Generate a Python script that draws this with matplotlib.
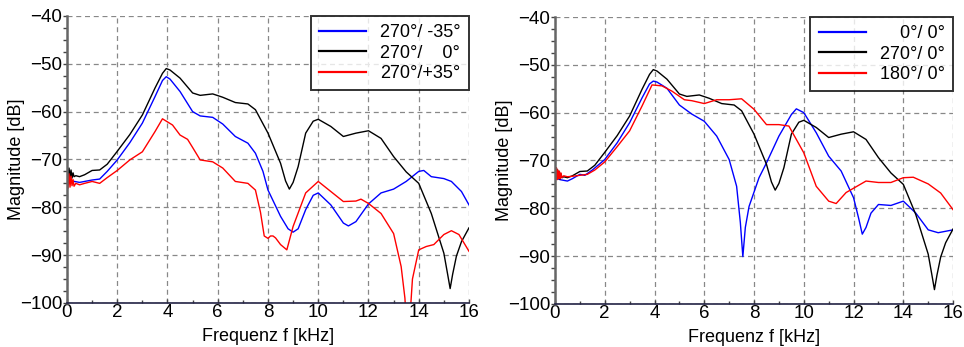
import matplotlib
matplotlib.use('Agg')
import matplotlib.pyplot as plt
from matplotlib.ticker import MultipleLocator

plt.rcParams['font.family'] = ['Liberation Sans', 'DejaVu Sans']

# 270 deg / 0 deg (shown in both panels)
f_black = [0.0, 0.04, 0.08, 0.12, 0.16, 0.2, 0.24, 0.28, 0.35, 0.5, 0.7, 0.9, 1.0, 1.3, 1.6, 2.0, 2.5, 3.0, 3.5, 3.8, 3.95, 4.1, 4.5, 5.0, 5.3, 5.8, 6.2, 6.7, 7.2, 7.5, 8.0, 8.5, 8.7, 8.85, 9.0, 9.2, 9.5, 9.8, 10.0, 10.5, 11.0, 11.5, 12.0, 12.5, 13.0, 13.5, 14.0, 14.5, 15.0, 15.15, 15.25, 15.35, 15.5, 15.7, 16.0]
db_black = [-71.0, -73.5, -71.8, -73.8, -72.2, -73.9, -72.8, -73.6, -73.4, -73.6, -73.2, -72.6, -72.3, -72.2, -71.0, -68.3, -64.8, -60.7, -55.1, -52.0, -51.0, -51.3, -53.0, -56.1, -56.6, -56.3, -57.0, -58.1, -58.4, -59.6, -64.5, -70.8, -74.5, -76.2, -74.8, -71.5, -64.5, -62.0, -61.6, -63.1, -65.2, -64.5, -64.0, -65.6, -69.4, -72.6, -75.0, -81.3, -89.6, -94.0, -97.0, -94.0, -90.2, -87.2, -84.3]

# 270 deg / -35 deg
f_blue = [0.0, 0.1, 0.2, 0.3, 0.5, 0.7, 1.0, 1.3, 1.6, 2.0, 2.5, 3.0, 3.5, 3.8, 3.95, 4.1, 4.5, 5.0, 5.3, 5.8, 6.2, 6.7, 7.2, 7.5, 7.8, 8.0, 8.5, 8.8, 9.0, 9.2, 9.5, 9.8, 10.0, 10.5, 11.0, 11.2, 11.5, 12.0, 12.5, 13.0, 13.5, 14.0, 14.2, 14.5, 15.0, 15.3, 15.7, 16.0]
db_blue = [-73.0, -74.0, -74.5, -74.6, -74.8, -74.6, -74.3, -74.1, -72.5, -70.1, -66.5, -62.4, -56.9, -53.5, -52.7, -53.2, -55.8, -60.0, -60.9, -61.2, -62.6, -65.2, -66.6, -68.7, -72.5, -76.4, -81.9, -84.5, -85.2, -84.5, -80.5, -77.5, -77.0, -79.5, -83.3, -83.9, -83.0, -79.3, -77.0, -76.2, -74.6, -72.5, -72.3, -73.6, -74.0, -74.6, -76.7, -79.5]

# 270 deg / +35 deg
f_red = [0.0, 0.04, 0.08, 0.12, 0.16, 0.2, 0.24, 0.28, 0.35, 0.5, 0.7, 1.0, 1.3, 1.6, 2.0, 2.5, 3.0, 3.5, 3.8, 4.2, 4.5, 4.8, 5.0, 5.3, 5.8, 6.2, 6.7, 7.2, 7.5, 7.7, 7.85, 8.0, 8.1, 8.2, 8.3, 8.5, 8.75, 9.0, 9.5, 10.0, 10.5, 11.0, 11.5, 11.7, 12.0, 12.5, 13.0, 13.3, 13.45, 13.55, 13.65, 13.75, 14.0, 14.3, 14.6, 15.0, 15.3, 15.6, 16.0]
db_red = [-72.0, -76.0, -73.0, -75.8, -73.5, -75.5, -74.2, -75.6, -75.0, -75.3, -75.0, -74.6, -75.0, -73.8, -72.3, -70.1, -68.4, -64.2, -61.5, -62.8, -64.9, -65.8, -67.5, -70.1, -70.5, -71.8, -74.6, -75.0, -76.4, -81.0, -86.0, -86.5, -86.0, -86.0, -86.4, -87.8, -88.9, -84.0, -77.0, -74.6, -76.7, -78.8, -78.7, -78.3, -79.2, -81.3, -85.5, -92.4, -99.0, -108.0, -103.0, -95.0, -88.9, -88.2, -87.8, -85.7, -84.9, -85.7, -89.2]

# 0 deg / 0 deg
f_blue2 = [0.0, 0.1, 0.2, 0.3, 0.5, 0.7, 1.0, 1.2, 1.5, 2.0, 2.5, 3.0, 3.5, 3.8, 3.95, 4.1, 4.5, 5.0, 5.5, 6.0, 6.5, 7.0, 7.3, 7.45, 7.55, 7.65, 7.8, 8.2, 8.5, 9.0, 9.5, 9.7, 10.0, 10.5, 11.0, 11.5, 12.0, 12.2, 12.35, 12.5, 12.7, 13.0, 13.5, 14.0, 14.5, 15.0, 15.4, 16.0]
db_blue2 = [-73.5, -73.8, -74.0, -74.1, -74.3, -73.8, -72.9, -73.1, -72.0, -69.8, -66.3, -62.1, -56.9, -54.0, -53.4, -53.6, -54.9, -58.4, -60.3, -61.8, -64.9, -69.8, -75.4, -83.0, -90.1, -84.0, -79.6, -73.6, -70.5, -64.9, -60.4, -59.2, -60.0, -64.2, -69.1, -72.2, -77.8, -82.0, -85.4, -84.0, -81.0, -79.2, -79.4, -78.5, -81.0, -84.5, -85.1, -84.5]

# 180 deg / 0 deg
f_red2 = [0.0, 0.03, 0.06, 0.09, 0.12, 0.15, 0.18, 0.21, 0.24, 0.28, 0.35, 0.5, 0.7, 1.0, 1.3, 1.6, 2.0, 2.5, 3.0, 3.5, 3.9, 4.3, 4.7, 5.2, 5.5, 6.0, 6.5, 7.0, 7.5, 8.0, 8.5, 9.0, 9.4, 10.0, 10.5, 11.0, 11.3, 11.7, 12.0, 12.5, 13.0, 13.5, 14.0, 14.4, 15.0, 15.5, 16.0]
db_red2 = [-71.0, -74.0, -71.5, -74.0, -72.0, -73.8, -72.3, -73.8, -72.6, -73.6, -73.2, -73.4, -73.3, -73.1, -72.9, -72.0, -70.3, -67.1, -63.8, -58.6, -54.2, -54.4, -55.5, -57.3, -57.5, -58.1, -57.3, -57.3, -57.1, -59.3, -62.5, -62.5, -62.8, -68.4, -75.4, -78.5, -79.0, -76.7, -75.8, -74.3, -74.6, -74.6, -73.6, -73.5, -74.9, -76.8, -80.3]

left_labels = ['270°/ -35°', '270°/    0°', '270°/+35°']
right_labels = ['\u2007\u20070°/ 0°', '270°/ 0°', '180°/ 0°']

fig = plt.figure(figsize=(9.64, 3.47), dpi=100)
ax1 = fig.add_axes([0.0695, 0.127, 0.417, 0.827])
ax2 = fig.add_axes([0.5757, 0.124, 0.413, 0.827])


def style_axes(ax):
    ax.set_xlim(0, 16)
    ax.set_ylim(-100, -40)
    ax.xaxis.set_major_locator(MultipleLocator(2))
    ax.xaxis.set_minor_locator(MultipleLocator(1))
    ax.yaxis.set_major_locator(MultipleLocator(10))
    ax.yaxis.set_minor_locator(MultipleLocator(2.5))
    ax.grid(True, which='major', color='#888888', linestyle=(0, (4, 3)), linewidth=0.9)
    ax.spines['top'].set_visible(False)
    ax.spines['right'].set_visible(False)
    ax.spines['left'].set_color('#666666')
    ax.spines['left'].set_linewidth(1.8)
    ax.spines['bottom'].set_color('#222244')
    ax.spines['bottom'].set_linewidth(1.2)
    ax.tick_params(axis='y', which='major', direction='out', length=3, width=1, color='#444444', labelsize=13.5, pad=0.5)
    ax.tick_params(axis='y', which='minor', direction='out', length=3, width=1, color='#444444')
    ax.tick_params(axis='x', which='major', direction='in', length=3, width=1, color='#444444', labelsize=13.5, pad=1)
    ax.tick_params(axis='x', which='minor', direction='in', length=2, width=1, color='#444444')
    ax.set_xlabel('Frequenz f [kHz]', fontsize=13, labelpad=5)
    ax.set_ylabel('Magnitude [dB]', fontsize=13, labelpad=-4)
    for s in ('left', 'bottom'):
        ax.spines[s].set_zorder(5)


ax1.plot(f_blue, db_blue, color='#0000ff', lw=1.0, label=left_labels[0])
ax1.plot(f_black, db_black, color='black', lw=1.0, label=left_labels[1])
ax1.plot(f_red, db_red, color='#ff0000', lw=1.0, label=left_labels[2])
style_axes(ax1)

ax2.plot(f_blue2, db_blue2, color='#0000ff', lw=1.0, label=right_labels[0])
ax2.plot(f_black, db_black, color='black', lw=1.0, label=right_labels[1])
ax2.plot(f_red2, db_red2, color='#ff0000', lw=1.0, label=right_labels[2])
style_axes(ax2)

for ax in (ax1, ax2):
    leg = ax.legend(loc='upper right', bbox_to_anchor=(1.0, 1.0), fontsize=13,
                    frameon=True, fancybox=False, borderaxespad=0.0,
                    handlelength=2.6, handletextpad=0.8, labelspacing=0.2,
                    borderpad=0.45)
    leg.get_frame().set_edgecolor('black')
    leg.get_frame().set_linewidth(1.4)
    for h in leg.get_lines():
        h.set_linewidth(1.6)

fig.savefig('out.png', dpi=100)
